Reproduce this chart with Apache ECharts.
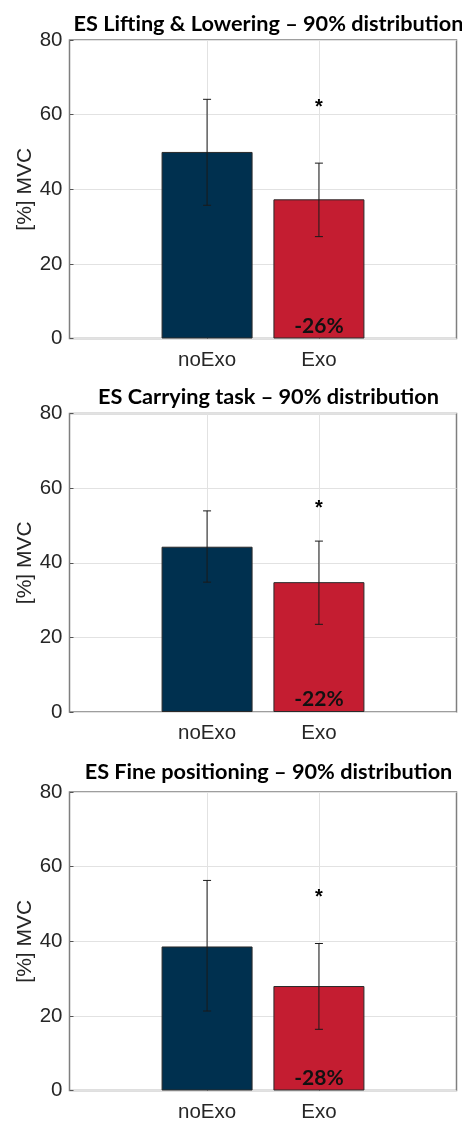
<!DOCTYPE html>
<html>
<head>
<meta charset="utf-8">
<script src="https://cdn.jsdelivr.net/npm/echarts@6/dist/echarts.min.js"></script>
<style>
html,body{margin:0;padding:0;background:#fff;}
#chart{width:462px;height:1123px;}
</style>
</head>
<body>
<div id="chart"></div>
<script>
// ---- data ----
const titles = [
  'ES Lifting & Lowering \u2013 90% distribution',
  'ES Carrying task \u2013 90% distribution',
  'ES Fine positioning \u2013 90% distribution'
];
const categories = ['noExo', 'Exo'];
const noExoMean = [50.0, 44.3, 38.6];
const exoMean = [37.3, 34.8, 28.0];
const noExoLow = [35.7, 34.8, 21.3];
const noExoHigh = [64.1, 53.9, 56.3];
const exoLow = [27.3, 23.5, 16.4];
const exoHigh = [47.0, 45.8, 39.4];
const starValues = [62.0, 54.6, 51.8];
const pctLabels = ['-26%', '-22%', '-28%'];
const yTicks = [0, 20, 40, 60, 80];

// ---- layout ----
const barColors = ['#00304f', '#c41d31'];
const gridTops = [40, 413.5, 792];
const gridHeight = 298.5;
const titleCenters = [22, 395, 770];
const gridLeft = 69.5, gridWidth = 387;
const xPos = [1, 2]; // category positions

const option = {
  animation: false,
  backgroundColor: '#ffffff',
  title: [], grid: [], xAxis: [], yAxis: [], series: []
};

for (let p = 0; p < 3; p++) {
  option.title.push({
    text: titles[p],
    left: 263.5,
    textAlign: 'center',
    top: titleCenters[p] - 14,
    textStyle: {fontFamily: 'Lato', fontWeight: 'bold', fontSize: 21.7, color: '#000'}
  });
  option.grid.push({
    left: gridLeft, top: gridTops[p], width: gridWidth, height: gridHeight,
    show: true, borderColor: '#7f7f7f', borderWidth: 1.5, backgroundColor: 'transparent'
  });
  option.xAxis.push({
    type: 'value', gridIndex: p, min: -0.23, max: 3.23,
    axisLine: {show: false, onZero: false},
    axisTick: {show: true, inside: true, length: 4, customValues: xPos, lineStyle: {color: '#555'}},
    axisLabel: {
      customValues: xPos, margin: 11, fontFamily: 'Liberation Sans', fontSize: 20.5, color: '#262626',
      formatter: v => categories[Math.round(v) - 1] || ''
    },
    splitLine: {show: true, lineStyle: {color: '#e2e2e2', width: 1}}
  });
  option.yAxis.push({
    type: 'value', gridIndex: p, min: yTicks[0], max: yTicks[yTicks.length - 1], interval: 20,
    name: '[%] MVC', nameLocation: 'middle', nameGap: 34, nameRotate: 90, nameMoveOverlap: false,
    nameTextStyle: {fontFamily: 'Liberation Sans', fontSize: 21, color: '#262626'},
    axisLine: {show: false, onZero: false},
    axisTick: {show: true, inside: true, length: 4, lineStyle: {color: '#555'}},
    axisLabel: {margin: 7, fontFamily: 'Liberation Sans', fontSize: 20.5, color: '#262626'},
    splitLine: {show: true, lineStyle: {color: '#e2e2e2', width: 1}}
  });

  // bars
  option.series.push({
    type: 'bar', xAxisIndex: p, yAxisIndex: p, barWidth: 91, clip: false, z: 3,
    data: [
      {value: [xPos[0], noExoMean[p]], itemStyle: {color: barColors[0]}, label: {show: false}},
      {value: [xPos[1], exoMean[p]], itemStyle: {color: barColors[1]},
       label: {show: true, position: 'insideBottom', distance: 2, formatter: pctLabels[p],
               fontFamily: 'Lato', fontWeight: 'bold', fontSize: 21, color: '#111'}}
    ],
    itemStyle: {borderColor: '#2a2a2a', borderWidth: 1}
  });

  // error bars
  option.series.push({
    type: 'custom', xAxisIndex: p, yAxisIndex: p, z: 5,
    data: [[xPos[0], noExoLow[p], noExoHigh[p]], [xPos[1], exoLow[p], exoHigh[p]]],
    renderItem: function (params, api) {
      const lo = api.coord([api.value(0), api.value(1)]);
      const hi = api.coord([api.value(0), api.value(2)]);
      const w = 4;
      const st = {stroke: '#1a1a1a', lineWidth: 1};
      return {type: 'group', children: [
        {type: 'line', shape: {x1: lo[0], y1: lo[1], x2: hi[0], y2: hi[1]}, style: st},
        {type: 'line', shape: {x1: lo[0] - w, y1: lo[1], x2: lo[0] + w, y2: lo[1]}, style: st},
        {type: 'line', shape: {x1: hi[0] - w, y1: hi[1], x2: hi[0] + w, y2: hi[1]}, style: st}
      ]};
    }
  });

  // significance star
  option.series.push({
    type: 'custom', xAxisIndex: p, yAxisIndex: p, z: 6,
    data: [[xPos[1], starValues[p]]],
    renderItem: function (params, api) {
      const c = api.coord([api.value(0), api.value(1)]);
      return {type: 'text', x: c[0], y: c[1],
        style: {text: '*', fontFamily: 'Liberation Sans', fontWeight: 'bold', fontSize: 20,
                fill: '#000', align: 'center', verticalAlign: 'middle'}};
    }
  });
}

const chart = echarts.init(document.getElementById('chart'), null, {renderer: 'canvas'});
chart.setOption(option);
</script>
</body>
</html>
